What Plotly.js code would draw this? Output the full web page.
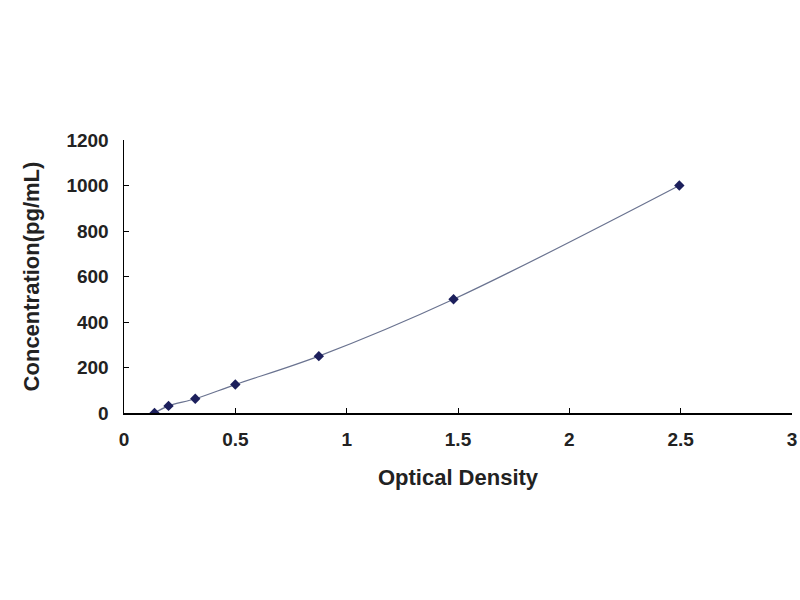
<!DOCTYPE html>
<html>
<head>
<meta charset="utf-8">
<script src="https://cdn.plot.ly/plotly-3.0.1.min.js"></script>
<style>html,body{margin:0;padding:0;background:#fff;}#chart{width:800px;height:600px;}</style>
</head>
<body>
<div id="chart"></div>
<script>
var opticalDensity = [0.137, 0.2, 0.32, 0.5, 0.875, 1.48, 2.494];
var concentration = [0, 31.25, 62.5, 125, 250, 500, 1000];
var xTicks = [0, 0.5, 1, 1.5, 2, 2.5, 3];
var yTicks = [0, 200, 400, 600, 800, 1000, 1200];

var fontFam = '"Liberation Sans", Arial, sans-serif';
var traces = [
  {
    x: opticalDensity, y: concentration, type: 'scatter', mode: 'lines',
    line: {color: '#6a7390', width: 1.2, shape: 'spline', smoothing: 1},
    hoverinfo: 'skip', showlegend: false
  },
  {
    x: opticalDensity, y: concentration, type: 'scatter', mode: 'markers',
    marker: {symbol: 'diamond', size: 8, color: '#1c1f5c'},
    showlegend: false
  }
];
var layout = {
  width: 800, height: 600,
  margin: {l: 124, r: 8, t: 140, b: 187},
  paper_bgcolor: '#ffffff', plot_bgcolor: '#ffffff',
  showlegend: false,
  xaxis: {
    range: [0, 3], tickvals: xTicks, ticktext: xTicks.map(String),
    showgrid: false, zeroline: false, showline: true, linecolor: '#000', linewidth: 1.5,
    ticks: 'inside', ticklen: 5, tickcolor: '#000', ticklabelstandoff: 9,
    tickfont: {family: fontFam, size: 19, color: '#222', weight: 'bold'},
    title: {text: '<b>Optical Density</b>', font: {family: fontFam, size: 22, color: '#222'}, standoff: 20}
  },
  yaxis: {
    range: [0, 1200], tickvals: yTicks, ticktext: yTicks.map(String),
    showgrid: false, zeroline: false, showline: true, linecolor: '#000', linewidth: 1.5,
    ticks: 'inside', ticklen: 5, tickcolor: '#000', ticklabelstandoff: 10,
    tickfont: {family: fontFam, size: 19, color: '#222', weight: 'bold'},
    title: {text: '<b>Concentration(pg/mL)</b>', font: {family: fontFam, size: 22, color: '#222'}, standoff: 20}
  }
};
Plotly.newPlot('chart', traces, layout, {displayModeBar: false, staticPlot: true});
</script>
</body>
</html>
